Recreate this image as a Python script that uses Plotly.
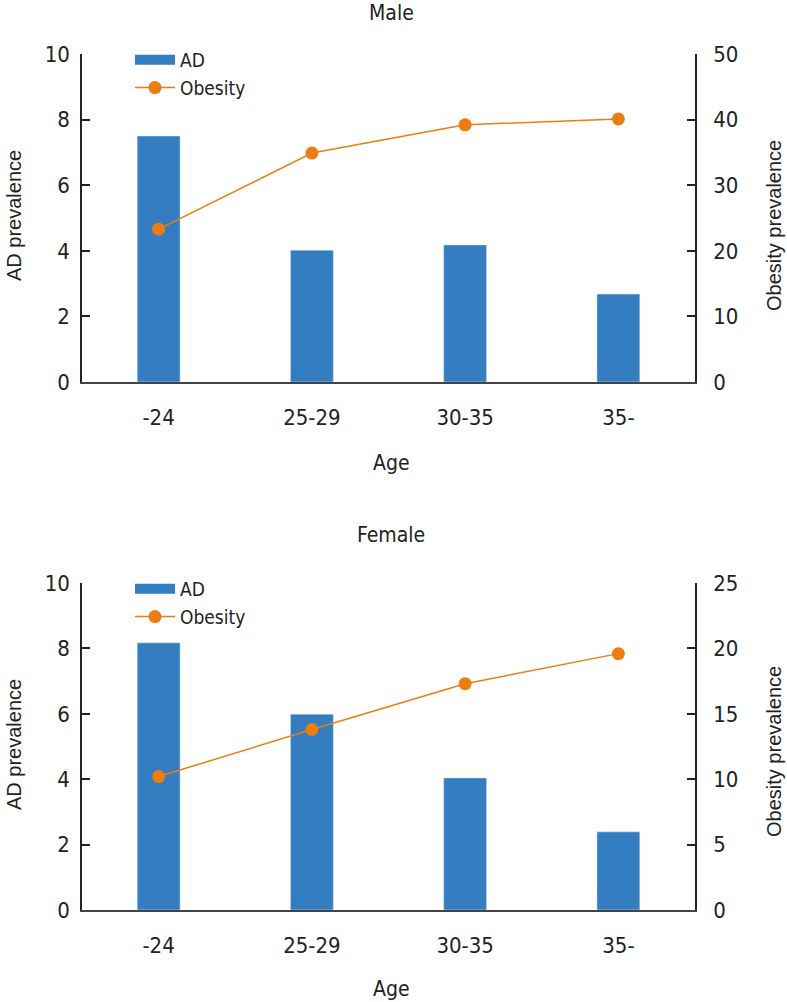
import plotly.graph_objects as go
from plotly.subplots import make_subplots

age_groups = ["-24", "25-29", "30-35", "35-"]
male_ad = [7.5, 4.02, 4.18, 2.68]
male_obesity = [23.3, 34.9, 39.2, 40.1]
female_ad = [8.17, 5.99, 4.04, 2.39]
female_obesity = [10.2, 13.8, 17.3, 19.6]

BLUE = "#347DC1"
ORANGE = "#EE7D11"
COND = "DejaVu Sans Condensed, Liberation Sans Narrow, Roboto, sans-serif"
REG = "Liberation Sans, Arial, sans-serif"

W, H = 787, 1002
def px_x(p): return p / W
def px_y(p): return 1 - p / H

fig = make_subplots(rows=2, cols=1, specs=[[{"secondary_y": True}], [{"secondary_y": True}]])

for row, ad, ob, lg in [(1, male_ad, male_obesity, "legend"), (2, female_ad, female_obesity, "legend2")]:
    fig.add_trace(go.Bar(x=age_groups, y=ad, name="AD", marker_color=BLUE, width=0.28,
                         showlegend=False, legend=lg), row=row, col=1, secondary_y=False)
    # legend entry for the bars (wide block symbol, as in the reference)
    fig.add_trace(go.Scatter(x=[None], y=[None], name="AD", mode="lines",
                             line=dict(color=BLUE, width=10), legend=lg),
                  row=row, col=1, secondary_y=False)
    fig.add_trace(go.Scatter(x=age_groups, y=ob, name="Obesity", mode="lines+markers",
                             line=dict(color=ORANGE, width=1.5), marker=dict(size=13, color=ORANGE),
                             legend=lg), row=row, col=1, secondary_y=True)

xdom = [px_x(82), px_x(695)]
top_dom = [px_y(382), px_y(54)]
bot_dom = [px_y(910), px_y(583)]

tickfont = dict(family=COND, size=22, color="#222")
xcommon = dict(showline=True, linecolor="#444", linewidth=2, ticks="", showgrid=False,
               tickfont=tickfont, ticklabelstandoff=15, range=[-0.5, 3.5], domain=xdom,
               automargin=False)
ycommon = dict(showline=True, linecolor="#222", linewidth=1.5, ticks="inside", ticklen=8,
               tickcolor="#222", tickwidth=1.5, showgrid=False, zeroline=False,
               tickfont=tickfont, automargin=False)

legfont = dict(family=COND, size=19, color="#222")
fig.update_layout(
    width=W, height=H, margin=dict(l=0, r=0, t=0, b=0, autoexpand=False),
    plot_bgcolor="white", paper_bgcolor="white",
    xaxis=dict(**xcommon),
    xaxis2=dict(**xcommon),
    yaxis=dict(**ycommon, range=[0, 10], dtick=2, domain=top_dom, ticklabelstandoff=6),
    yaxis2=dict(**ycommon, range=[0, 50], dtick=10, domain=top_dom, ticklabelstandoff=12),
    yaxis3=dict(**ycommon, range=[0, 10], dtick=2, domain=bot_dom, ticklabelstandoff=6),
    yaxis4=dict(**ycommon, range=[0, 25], dtick=5, domain=bot_dom, ticklabelstandoff=12),
    legend=dict(x=px_x(130), y=px_y(41), xanchor="left", yanchor="top", font=legfont,
                bgcolor="rgba(0,0,0,0)", traceorder="normal", itemwidth=40),
    legend2=dict(x=px_x(130), y=px_y(570), xanchor="left", yanchor="top", font=legfont,
                 bgcolor="rgba(0,0,0,0)", traceorder="normal", itemwidth=40),
)

def ann(text, x, y, font, angle=0):
    fig.add_annotation(text=text, x=px_x(x), y=px_y(y), xref="paper", yref="paper",
                       showarrow=False, font=font, textangle=angle,
                       xanchor="center", yanchor="middle")

title_font = dict(family=COND, size=21, color="#222")
axis_font = dict(family=REG, size=20, color="#222")
ann("Male", 391, 13, title_font)
ann("Female", 391, 535, title_font)
ann("Age", 391, 463, title_font)
ann("Age", 391, 989, title_font)
ann("AD prevalence", 14, 216, axis_font, -90)
ann("AD prevalence", 14, 745, axis_font, -90)
ann("Obesity prevalence", 774, 226, axis_font, -90)
ann("Obesity prevalence", 774, 752, axis_font, -90)

fig.write_html("out.html", config={"displayModeBar": False},
               post_script="document.body.style.margin='0';document.body.style.overflow='hidden';")
